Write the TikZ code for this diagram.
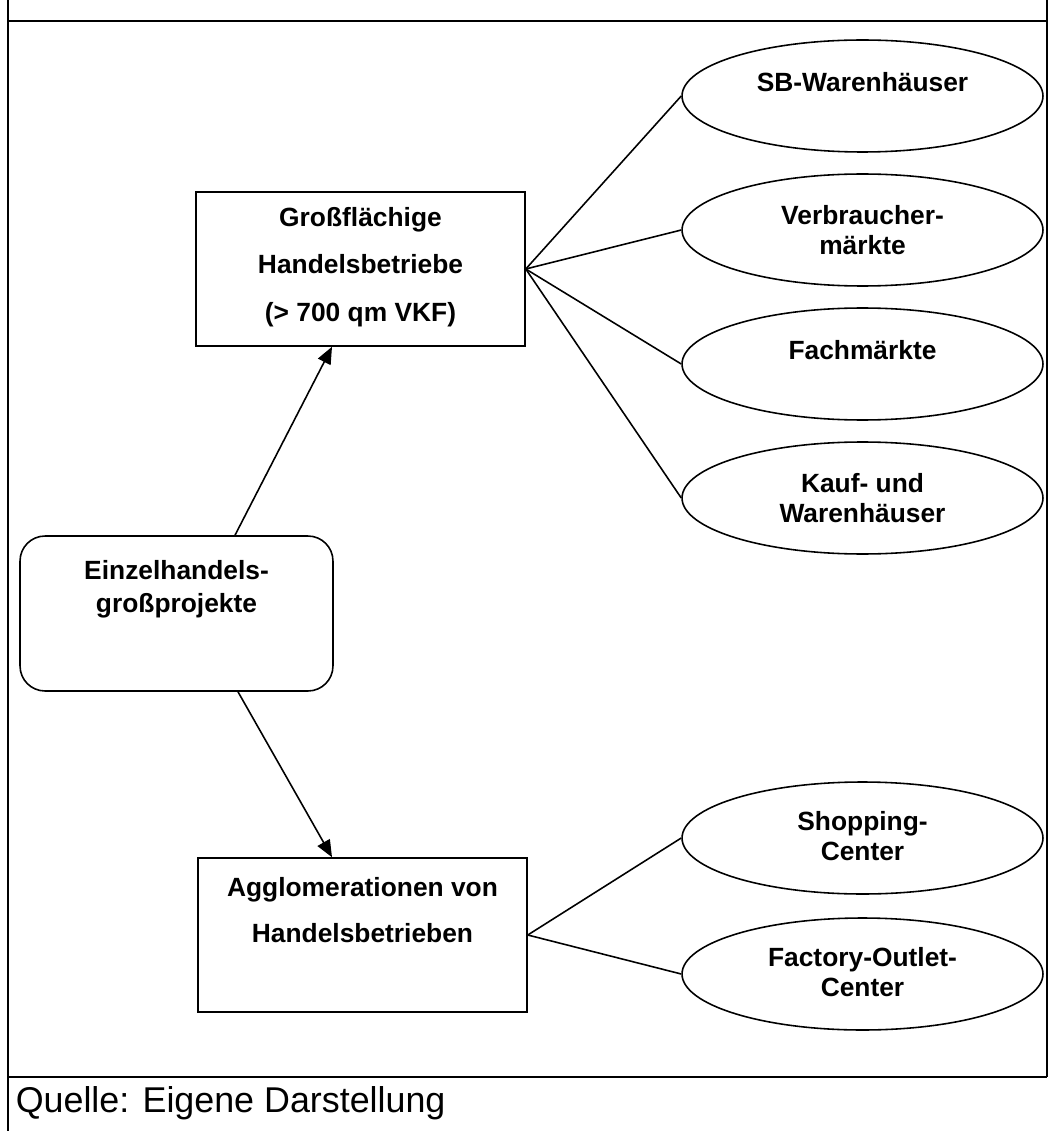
\documentclass[tikz,border=0pt]{standalone}
\usepackage{fontspec}
\setmainfont{Liberation Sans}
\usetikzlibrary{shapes.geometric,arrows.meta}

\begin{document}
\begin{tikzpicture}[x=0.02cm, y=-0.02cm, line width=0.9pt,
	box/.style={draw, rectangle, minimum width=6.58cm, minimum height=3.08cm, inner sep=0pt},
	startbox/.style={draw, rectangle, rounded corners=0.5cm, minimum width=6.26cm, minimum height=3.1cm, inner sep=0pt},
	oval/.style={draw, ellipse, minimum width=7.22cm, minimum height=2.24cm, inner sep=0pt},
	txt/.style={align=center, inner sep=0pt, font=\bfseries\fontsize{15}{17.2}\selectfont},
	arr/.style={-{Triangle[length=3.4mm,width=2.8mm]}}]
	\useasboundingbox (0,0) rectangle (1050,1131);
	
	% frame
	\draw (8,0) -- (8,1131);
	\draw (1047,0) -- (1047,1077);
	\draw (8,21) -- (1047,21);
	\draw (8,1077) -- (1047,1077);
	\node[anchor=west, inner sep=0pt, font=\fontsize{20.4}{24}\selectfont] (quelle) at (15,1103) {Quelle: Eigene Darstellung};
	
	% boxes
	\node[box] (gross) at (360.5,269) {};
	\node[startbox] (einzel) at (176.5,613.5) {};
	\node[box] (agglo) at (362.5,935) {};
	
	\node[txt, font=\bfseries\fontsize{15}{27}\selectfont] (tgross) at (360.5,267) {Großflächige\\Handelsbetriebe\\(> 700 qm VKF)};
	\node[txt, font=\bfseries\fontsize{15}{19}\selectfont] (teinzel) at (176.5,589) {Einzelhandels-\\großprojekte};
	\node[txt, font=\bfseries\fontsize{15}{26}\selectfont] (tagglo) at (362.5,910) {Agglomerationen von\\Handelsbetrieben};
	
	% ovals
	\node[oval] (sb) at (862.5,96) {};
	\node[oval] (verb) at (862.5,230) {};
	\node[oval] (fach) at (862.5,364) {};
	\node[oval] (kauf) at (862.5,498) {};
	\node[oval] (shop) at (862.5,838) {};
	\node[oval] (factory) at (862.5,974) {};
	
	\node[txt] (tsb) at (862.5,82) {SB-Warenhäuser};
	\node[txt] (tverb) at (862.5,230) {Verbraucher-\\märkte};
	\node[txt] (tfach) at (862.5,350) {Fachmärkte};
	\node[txt] (tkauf) at (862.5,498) {Kauf- und\\Warenhäuser};
	\node[txt] (tshop) at (862.5,836) {Shopping-\\Center};
	\node[txt] (tfactory) at (862.5,972) {Factory-Outlet-\\Center};
	
	% connectors
	\draw[arr] ([xshift=1.17cm]einzel.north) -- ([xshift=-0.57cm]gross.south);
	\draw[arr] ([xshift=1.23cm]einzel.south) -- ([xshift=-0.61cm]agglo.north);
	
	\foreach \e in {sb,verb,fach,kauf}
	\draw (gross.east) -- (\e.west);
	
	\foreach \e in {shop,factory}
	\draw (agglo.east) -- (\e.west);
\end{tikzpicture}
\end{document}
